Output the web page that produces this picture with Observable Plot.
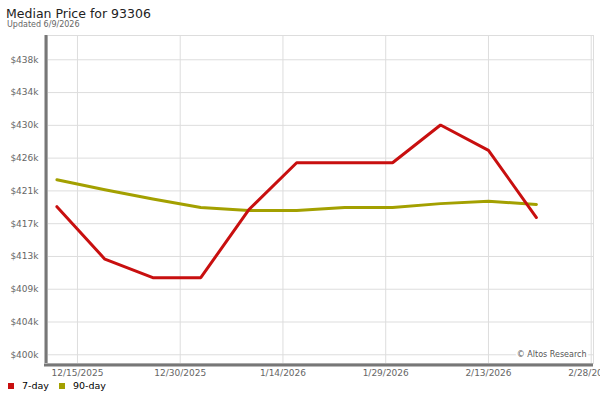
<!DOCTYPE html>
<html><head><meta charset="utf-8">
<script src="https://cdn.jsdelivr.net/npm/d3@7"></script>
<script src="https://cdn.jsdelivr.net/npm/@observablehq/plot@0.6"></script>
<style>
body{margin:0;width:600px;height:400px;overflow:hidden;font-family:"DejaVu Sans",sans-serif;background:#fff}
#head{height:30px;position:relative}
#title{position:absolute;left:6px;top:7.7px;font-size:12.5px;line-height:1;color:#222;white-space:nowrap}
#sub{position:absolute;left:7px;top:20.5px;font-size:8px;line-height:1;color:#666;white-space:nowrap}
#chart svg{display:block}
#legend{position:relative;height:12px;font-size:9.5px;line-height:12px;color:#000}
#legend span.sw{position:absolute;top:3px;width:6px;height:6px}
#legend span.lb{position:absolute;top:0}
</style>
</head><body>
<div id="head"><div id="title">Median Price for 93306</div><div id="sub">Updated 6/9/2026</div></div>
<div id="chart"></div>
<div id="legend"></div>
<script>
const dates = ["2025-12-12","2025-12-19","2025-12-26","2026-01-02","2026-01-09","2026-01-16","2026-01-23","2026-01-30","2026-02-06","2026-02-13","2026-02-20"];
const sevenDay = [419.2,412.4,410.0,410.0,418.8,424.9,424.9,424.9,429.8,426.5,417.8];
const ninetyDay = [422.7,421.4,420.2,419.1,418.7,418.7,419.1,419.1,419.6,419.9,419.5];
const seriesNames = ["7-day","90-day"];
const seriesColors = ["#c80f0f","#a3a000"];
const xTickLabels = ["2025-12-15","2025-12-30","2026-01-14","2026-01-29","2026-02-13","2026-02-28"];
const yTicks = [400,404.25,408.5,412.75,417,421.25,425.5,429.75,434,438.25];

const parse = s => new Date(s + "T00:00:00Z");
const xDomain = [new Date(Date.UTC(2025,11,10,15)), new Date(Date.UTC(2026,1,28,8))];
const yDomain = [398.87, 441.4];
const xTicks = xTickLabels.map(parse);
const rows = [];
dates.forEach((d,i)=>{
  rows.push({date:parse(d), value:sevenDay[i], series:seriesNames[0]});
  rows.push({date:parse(d), value:ninetyDay[i], series:seriesNames[1]});
});

const chart = Plot.plot({
  width:600, height:350,
  marginTop:5, marginBottom:17, marginLeft:47, marginRight:7,
  style:{fontFamily:"DejaVu Sans", fontSize:"9px", background:"white", overflow:"visible"},
  x:{type:"utc", domain:xDomain},
  y:{domain:yDomain},
  color:{domain:seriesNames, range:seriesColors},
  marks:[
    Plot.gridX(xTicks,{stroke:"#dddddd", strokeOpacity:1}),
    Plot.gridY(yTicks,{stroke:"#dddddd", strokeOpacity:1}),
    Plot.frame({stroke:"#dddddd"}),
    Plot.axisX(xTicks,{tickSize:0, tickPadding:6, tickFormat:d3.utcFormat("%-m/%-d/%Y"), fill:"#666", label:null, fontSize:9}),
    Plot.axisY(yTicks,{tickSize:0, tickPadding:9, tickFormat:d=>"$"+Math.round(d)+"k", fill:"#666", label:null, fontSize:9}),
    Plot.line(rows.filter(r=>r.series===seriesNames[1]),{x:"date", y:"value", stroke:"series", strokeWidth:3, strokeLinejoin:"round"}),
    Plot.line(rows.filter(r=>r.series===seriesNames[0]),{x:"date", y:"value", stroke:"series", strokeWidth:3, strokeLinejoin:"miter"}),
    Plot.text(["© Altos Research"],{frameAnchor:"bottom-right", lineAnchor:"middle", dx:-7, dy:-9, fontSize:8, fill:"#555", stroke:"white", strokeWidth:4}),
    Plot.ruleX([xDomain[0]],{stroke:"#777", strokeWidth:3, dx:-1.5}),
    Plot.ruleY([yDomain[0]],{stroke:"#777", strokeWidth:3, dy:1.5, insetLeft:-3})
  ]
});
document.getElementById("chart").appendChild(chart);

const lg = document.getElementById("legend");
const swX = [8,59], lbX = [22,73];
seriesNames.forEach((n,i)=>{
  const s = document.createElement("span"); s.className="sw"; s.style.left=swX[i]+"px"; s.style.background=seriesColors[i]; lg.appendChild(s);
  const l = document.createElement("span"); l.className="lb"; l.style.left=lbX[i]+"px"; l.textContent=n; lg.appendChild(l);
});
</script>
</body></html>
